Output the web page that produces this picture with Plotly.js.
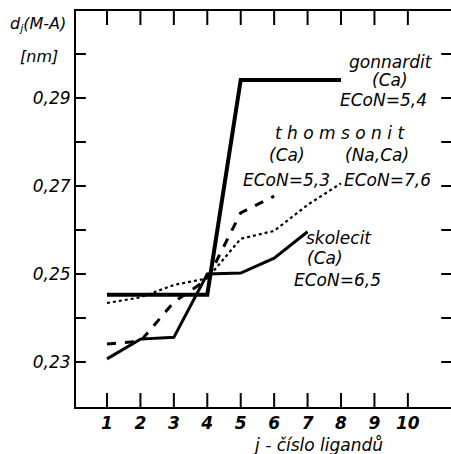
<!DOCTYPE html>
<html><head><meta charset="utf-8">
<script src="https://cdn.plot.ly/plotly-3.0.1.min.js"></script>
<style>html,body{margin:0;padding:0;background:#fff;}</style>
</head><body>
<div id="chart" style="width:451px;height:454px;"></div>
<script>
const gonnarditX = [1,2,3,4,5,6,7,8];
const gonnarditY = [0.2453,0.2453,0.2453,0.2453,0.2941,0.2941,0.2941,0.2941];
const thomsonitCaX = [1,2,3,4,5,6];
const thomsonitCaY = [0.2341,0.2347,0.2436,0.2488,0.2639,0.2677];
const thomsonitNaCaX = [1,2,3,4,5,6,7,8];
const thomsonitNaCaY = [0.2434,0.2447,0.2475,0.2490,0.2580,0.2598,0.2657,0.2706];
const skolecitX = [1,2,3,4,5,6,7];
const skolecitY = [0.2307,0.2352,0.2356,0.2500,0.2502,0.2536,0.2596];
const yTickVals = [0.23,0.24,0.25,0.26,0.27,0.28,0.29,0.30];
const yTickText = ['0,23',' ','0,25',' ','0,27',' ','0,29',' '];
const xTickVals = [1,2,3,4,5,6,7,8,9,10];

const F = 'DejaVu Sans, Verdana, sans-serif';
const XR = [0.073,11.29], YR = [0.21977,0.30977];
const tickMark = {color:'#000', size:20, symbol:'line-ns', line:{color:'#000', width:2}};
const tickMarkY = {color:'#000', size:14, symbol:'line-ew', line:{color:'#000', width:2}};
const traces = [
  {x: gonnarditX, y: gonnarditY, mode:'lines', line:{color:'#000', width:4}, hoverinfo:'skip'},
  {x: skolecitX, y: skolecitY, mode:'lines', line:{color:'#000', width:3}, hoverinfo:'skip'},
  {x: thomsonitCaX, y: thomsonitCaY, mode:'lines', line:{color:'#000', width:3, dash:'dash'}, hoverinfo:'skip'},
  {x: thomsonitNaCaX, y: thomsonitNaCaY, mode:'lines', line:{color:'#000', width:2.2, dash:'dot'}, hoverinfo:'skip'},
  // tick marks along the frame, built from the tick arrays and the axis ranges
  {x: xTickVals, y: xTickVals.map(() => YR[0]), mode:'markers', marker:tickMark, cliponaxis:true, hoverinfo:'skip'},
  {x: xTickVals, y: xTickVals.map(() => YR[1]), mode:'markers', marker:tickMark, cliponaxis:true, hoverinfo:'skip'},
  {x: yTickVals.map(() => XR[0]), y: yTickVals, mode:'markers', marker:tickMarkY, cliponaxis:true, hoverinfo:'skip'},
  {x: yTickVals.map(() => XR[1]), y: yTickVals, mode:'markers', marker:tickMarkY, cliponaxis:true, hoverinfo:'skip'}
];
function lab(t, x, y){ return {text:t, x:x, y:y, xref:'x', yref:'y', xanchor:'center', yanchor:'middle', showarrow:false, font:{family:F, size:17, style:'italic', color:'#000'}}; }
const annotations = [
  lab('gonnardit', 9.49, 0.2982),
  lab('(Ca)', 9.46, 0.2941),
  lab('ECoN=5,4', 9.28, 0.2895),
  lab('t h o m s o n i t', 7.97, 0.2820),
  lab('(Ca)', 6.38, 0.2770),
  lab('(Na,Ca)', 9.07, 0.2770),
  lab('ECoN=5,3', 6.38, 0.2714),
  lab('ECoN=7,6', 9.40, 0.2714),
  lab('skolecit', 7.94, 0.2582),
  lab('(Ca)', 7.52, 0.2536),
  lab('ECoN=6,5', 7.88, 0.2486),
  {text:'j - číslo ligandů', x:0.645, y:-0.096, xref:'paper', yref:'paper', xanchor:'center', yanchor:'middle', showarrow:false, font:{family:F, size:17, style:'italic', color:'#000'}},
  {text:'d<sub>j</sub>(M-A)', x:-0.101, y:0.965, xref:'paper', yref:'paper', xanchor:'center', yanchor:'middle', showarrow:false, font:{family:F, size:16, style:'italic', color:'#000'}},
  {text:'[nm]', x:-0.099, y:0.884, xref:'paper', yref:'paper', xanchor:'center', yanchor:'middle', showarrow:false, font:{family:F, size:16, style:'italic', color:'#000'}}
];
const layout = {
  width:451, height:454,
  margin:{l:76, r:0, t:11, b:47},
  paper_bgcolor:'#fff', plot_bgcolor:'#fff',
  showlegend:false,
  xaxis:{range:XR, tickvals:xTickVals, ticktext:xTickVals.map(String), ticks:'',
         showline:true, linewidth:2, linecolor:'#000', mirror:true, gridcolor:'rgba(0,0,0,0)', zeroline:false,
         tickfont:{family:F, size:17, style:'italic', weight:'bold', color:'#000'}},
  yaxis:{range:YR, tickvals:yTickVals, ticktext:yTickText, ticks:'',
         showline:true, linewidth:2, linecolor:'#000', gridcolor:'rgba(0,0,0,0)', zeroline:false,
         tickfont:{family:F, size:17, style:'italic', color:'#000'}},
  annotations: annotations
};
Plotly.newPlot('chart', traces, layout, {displayModeBar:false, staticPlot:true});
</script>
</body></html>
